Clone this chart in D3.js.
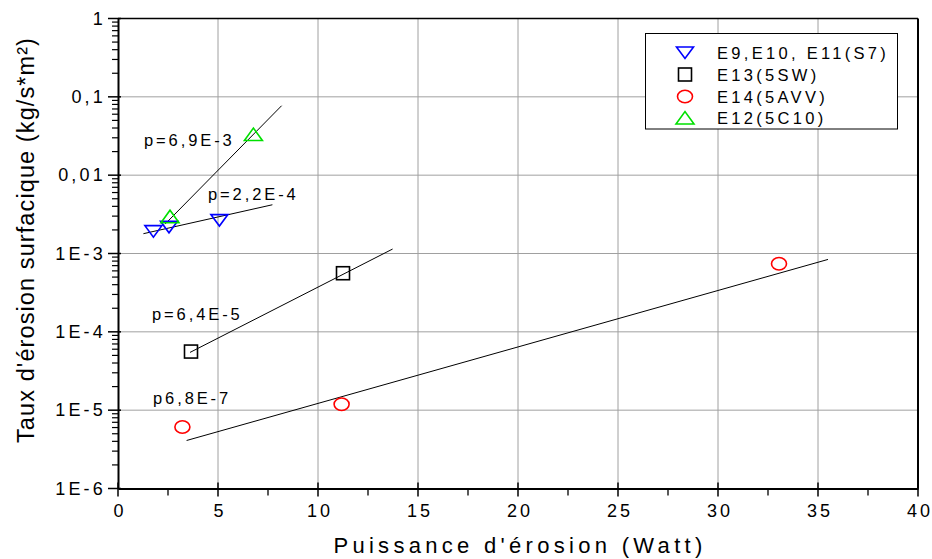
<!DOCTYPE html>
<html><head><meta charset="utf-8">
<script src="https://cdn.jsdelivr.net/npm/d3@7"></script>
<style>body{margin:0;background:#fff}svg{display:block;font-family:"Liberation Sans",Arial,sans-serif}</style>
</head><body><div id="chart"></div>
<script>
// ---- data ----
const xTicks = [0, 5, 10, 15, 20, 25, 30, 35, 40];
const yTicks = [1e-6, 1e-5, 1e-4, 1e-3, 1e-2, 1e-1, 1];
const yTickLabels = ["1E-6", "1E-5", "1E-4", "1E-3", "0,01", "0,1", "1"];

const s7X = [1.77, 2.55, 5.07];
const s7Y = [1.93e-3, 2.19e-3, 2.67e-3];
const sw5X = [3.65, 11.25];
const sw5Y = [5.6e-5, 5.6e-4];
const avv5X = [3.22, 11.18, 33.05];
const avv5Y = [6.1e-6, 1.19e-5, 7.4e-4];
const c10X = [2.6, 6.77];
const c10Y = [2.95e-3, 3.3e-2];

const fitS7X = [1.27, 7.72], fitS7Y = [1.79e-3, 4.19e-3];
const fitSwX = [3.6, 13.73], fitSwY = [5.46e-5, 1.14e-3];
const fitAvvX = [3.43, 35.5], fitAvvY = [4.1e-6, 8.4e-4];
const fitC10X = [2.35, 8.18], fitC10Y = [2.37e-3, 7.7e-2];

const legendLabels = ["E9,E10, E11(S7)", "E13(5SW)", "E14(5AVV)", "E12(5C10)"];
const fitLabels = ["p=6,9E-3", "p=2,2E-4", "p=6,4E-5", "p6,8E-7"];
const fitLabelPos = [[1.3, 0.0235], [4.5, 4.8e-3], [1.7, 1.41e-4], [1.75, 1.19e-5]];

// ---- layout ----
const W = 932, H = 559;
const m = {l: 118, r: 14, t: 18.5, b: 70.5};
const svg = d3.select("#chart").append("svg").attr("width", W).attr("height", H);
const x = d3.scaleLinear().domain([0, 40]).range([m.l, W - m.r]);
const y = d3.scaleLog().domain([1e-6, 1]).range([H - m.b, m.t]);

// grid
const grid = svg.append("g").attr("stroke", "#a0a0a0").attr("stroke-width", 1);
grid.selectAll("line.gx").data(xTicks.slice(1, -1)).join("line")
  .attr("x1", d => x(d)).attr("x2", d => x(d)).attr("y1", y(1)).attr("y2", y(1e-6));
grid.selectAll("line.gy").data(yTicks.slice(1, -1)).join("line")
  .attr("y1", d => y(d)).attr("y2", d => y(d)).attr("x1", x(0)).attr("x2", x(40));

// frame
svg.append("line").attr("x1", x(0)).attr("x2", x(40)).attr("y1", y(1)).attr("y2", y(1)).attr("stroke", "#000").attr("stroke-width", 1.5);
svg.append("line").attr("x1", x(40)).attr("x2", x(40)).attr("y1", y(1)).attr("y2", y(1e-6)).attr("stroke", "#000").attr("stroke-width", 2);

const tickFont = {size: 18, ls: 3.2};

// x axis
const xMinor = d3.range(2.5, 40, 5);
const xAx = svg.append("g").attr("transform", `translate(0,${y(1e-6)})`)
  .call(d3.axisBottom(x).tickValues(xTicks).tickSize(0).tickPadding(16).tickFormat(d3.format("d")));
xAx.select(".domain").attr("stroke-width", 2);
xAx.selectAll(".tick line").remove();
xAx.selectAll(".tick text").attr("font-size", tickFont.size).attr("letter-spacing", tickFont.ls)
  .attr("font-family", "Liberation Sans, Arial, sans-serif").attr("dx", tickFont.ls / 2);
xAx.selectAll("line.maj").data(xTicks).join("line").attr("stroke", "#000").attr("stroke-width", 1.5)
  .attr("x1", d => x(d)).attr("x2", d => x(d)).attr("y1", -6).attr("y2", 8);
xAx.selectAll("line.min").data(xMinor).join("line").attr("stroke", "#000").attr("stroke-width", 1.3)
  .attr("x1", d => x(d)).attr("x2", d => x(d)).attr("y1", 0).attr("y2", 7);

// y axis
const yAx = svg.append("g").attr("transform", `translate(${x(0)},0)`)
  .call(d3.axisLeft(y).tickValues(yTicks).tickSize(0).tickPadding(12).tickFormat((d, i) => yTickLabels[i]));
yAx.select(".domain").attr("stroke-width", 2);
yAx.selectAll(".tick line").remove();
yAx.selectAll(".tick text").attr("font-size", tickFont.size).attr("letter-spacing", tickFont.ls)
  .attr("font-family", "Liberation Sans, Arial, sans-serif");
const yMinor = [];
for (let e = -6; e < 0; e++) for (let k = 2; k <= 9; k++) yMinor.push(k * Math.pow(10, e));
yAx.selectAll("line.maj").data(yTicks).join("line").attr("stroke", "#000").attr("stroke-width", 1.5)
  .attr("y1", d => y(d)).attr("y2", d => y(d)).attr("x1", -10).attr("x2", 3);
yAx.selectAll("line.min").data(yMinor).join("line").attr("stroke", "#000").attr("stroke-width", 1.2)
  .attr("y1", d => y(d)).attr("y2", d => y(d)).attr("x1", -6).attr("x2", 0);

// fit lines
const fits = [[fitC10X, fitC10Y], [fitS7X, fitS7Y], [fitSwX, fitSwY], [fitAvvX, fitAvvY]];
const lineGen = d3.line().x(d => x(d[0])).y(d => y(d[1]));
svg.append("g").selectAll("path").data(fits).join("path")
  .attr("d", f => lineGen(f[0].map((v, i) => [v, f[1][i]])))
  .attr("fill", "none").attr("stroke", "#000").attr("stroke-width", 1);

// markers
const triDown = "M-8.5,-5.5L8.5,-5.5L0,6Z";
const triUp = "M-9,6L9,6L0,-6.5Z";
function drawMarker(g, type, color) {
  if (type === "down") g.append("path").attr("d", triDown);
  else if (type === "up") g.append("path").attr("d", triUp);
  else if (type === "sq") g.append("rect").attr("x", -6.5).attr("y", -6.5).attr("width", 13).attr("height", 13);
  else g.append("ellipse").attr("rx", 7.5).attr("ry", 6.2);
  g.selectAll("*").attr("fill", "none").attr("stroke", color).attr("stroke-width", 1.6);
}
const series = [
  {xs: s7X, ys: s7Y, type: "down", color: "#0000ff"},
  {xs: sw5X, ys: sw5Y, type: "sq", color: "#000000"},
  {xs: avv5X, ys: avv5Y, type: "circ", color: "#ff0000"},
  {xs: c10X, ys: c10Y, type: "up", color: "#00e000"}
];
series.forEach(s => {
  s.xs.forEach((v, i) => {
    const g = svg.append("g").attr("transform", `translate(${x(v)},${y(s.ys[i])})`);
    drawMarker(g, s.type, s.color);
  });
});

// fit labels
svg.append("g").selectAll("text").data(fitLabels).join("text")
  .attr("x", (d, i) => x(fitLabelPos[i][0])).attr("y", (d, i) => y(fitLabelPos[i][1]))
  .attr("font-size", 16.5).attr("letter-spacing", 2.9).text(d => d);

// legend
const lg = svg.append("g");
lg.append("rect").attr("x", 645.5).attr("y", 33.5).attr("width", 252).attr("height", 95.5)
  .attr("fill", "#fff").attr("stroke", "#000").attr("stroke-width", 1);
const rowsY = [52.5, 74.5, 96.5, 118];
series.forEach((s, i) => {
  const g = lg.append("g").attr("transform", `translate(685,${rowsY[i]})`);
  drawMarker(g, s.type, s.color);
  lg.append("text").attr("x", 717).attr("y", rowsY[i] + 6).attr("font-size", 16.5).attr("letter-spacing", 3.3).text(legendLabels[i]);
});

// axis titles
svg.append("text").attr("x", 520).attr("y", 553).attr("text-anchor", "middle")
  .attr("font-size", 22).attr("letter-spacing", 4.3).text("Puissance d'érosion (Watt)");
svg.append("text").attr("transform", "translate(34,240) rotate(-90)").attr("text-anchor", "middle")
  .attr("font-size", 23.5).attr("letter-spacing", 1.1).text("Taux d'érosion surfacique (kg/s*m²)");
</script></body></html>
